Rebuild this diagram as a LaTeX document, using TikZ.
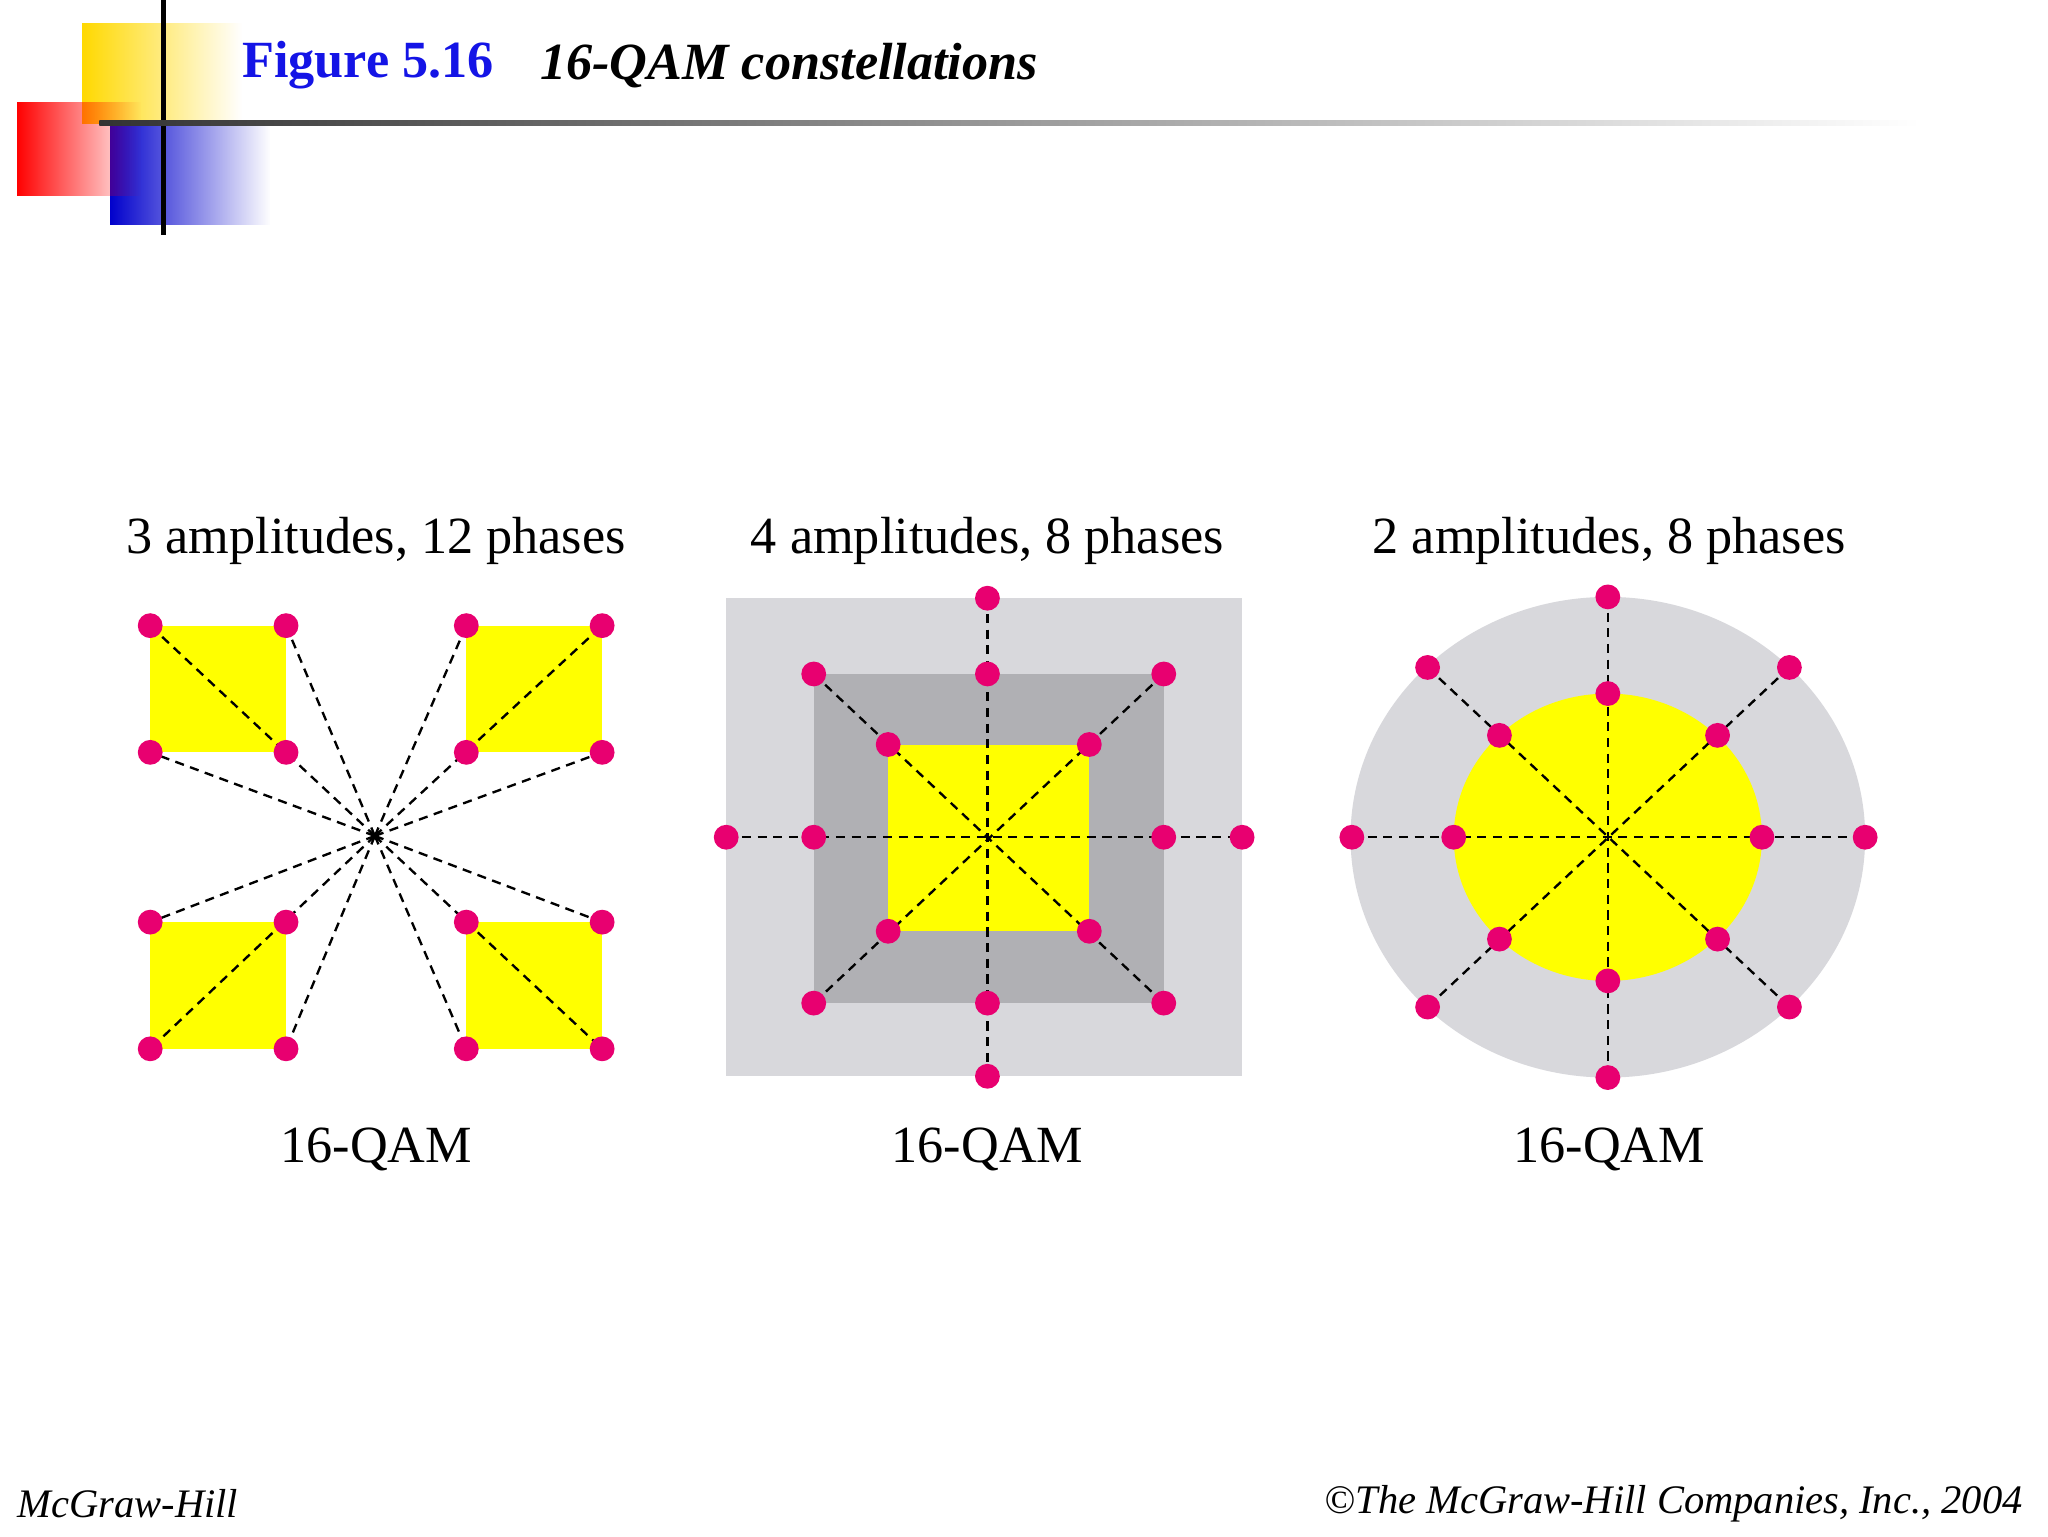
\documentclass[tikz,border=0pt]{standalone}
\usepackage{fontspec}
\setmainfont{Liberation Serif}
\usetikzlibrary{fadings}
\definecolor{dotc}{RGB}{232,0,112}
\definecolor{yel}{RGB}{255,255,0}
\definecolor{lg}{RGB}{216,216,220}
\definecolor{mg}{RGB}{176,176,180}
\definecolor{tblue}{RGB}{20,20,230}
\tikzset{
 dot/.style={circle,fill=dotc,inner sep=0pt,minimum size=19pt},
 dl/.style={line width=1.8pt,dash pattern=on 7pt off 5pt},
 lab/.style={font=\fontsize{40}{44}\selectfont},
 foot/.style={font=\itshape\fontsize{31}{34}\selectfont}
}
\begin{document}
\begin{tikzpicture}[x=1pt,y=-1pt]
\useasboundingbox[fill=white] (0,0) rectangle (1568,1176);
% logo
\fill[yel!70!orange,path fading=east] (63,18) rectangle (185,95);
\fill[blue!80!black,path fading=east] (84,95) rectangle (207,172);
\fill[red,path fading=east] (13,78) rectangle (108,150);
\draw[line width=4pt] (125,0) -- (125,180);
\shade[left color=black!80,right color=white] (76,92) rectangle (1470,96);
\node[anchor=west,font=\bfseries\fontsize{40}{44}\selectfont,text=tblue] (t1) at (182,50) {Figure 5.16};
\node[anchor=west,font=\bfseries\itshape\fontsize{40}{44}\selectfont] (t2) at (410,50) {16-QAM constellations};
% panel 1
\coordinate (c1) at (287,640);
\foreach \x/\y in {115/479,357/479,115/706,357/706}
  \fill[yel] (\x,\y) rectangle ++(104,97);
\foreach \x/\y in {115/479,219/479,115/576,461/479,357/479,461/576,115/803,115/706,219/803,461/803,461/706,357/803}
  \draw[dl] (c1) -- (\x,\y);
\foreach \x/\y in {115/479,219/479,115/576,219/576,357/479,461/479,357/576,461/576,115/706,219/706,115/803,219/803,357/706,461/706,357/803,461/803}
  \node[dot] at (\x,\y) {};
\node[lab] (l1) at (288,414) {3 amplitudes, 12 phases};
\node[lab] (q1) at (288,880) {16-QAM};
% panel 2
\coordinate (c2) at (756,641);
\fill[lg] (556,458) rectangle (951,824);
\fill[mg] (623,516) rectangle (891,768);
\fill[yel] (680,570) rectangle (834,713);
\draw[dl] (556,641) -- (951,641);
\draw[dl] (756,458) -- (756,824);
\draw[dl] (623,516) -- (891,768);
\draw[dl] (891,516) -- (623,768);
\foreach \x/\y in {756/458,756/824,556/641,951/641,623/516,891/516,623/768,891/768,756/516,756/768,623/641,891/641,680/570,834/570,680/713,834/713}
  \node[dot] at (\x,\y) {};
\node[lab] (l2) at (756,414) {4 amplitudes, 8 phases};
\node[lab] (q2) at (756,880) {16-QAM};
% panel 3
\coordinate (c3) at (1231,641);
\fill[lg] (c3) ellipse [x radius=197,y radius=184];
\fill[yel] (c3) ellipse [x radius=118,y radius=110];
\draw[dl] (1035,641) -- (1428,641);
\draw[dl] (1231,457) -- (1231,825);
\draw[dl] (1093,511) -- (1370,771);
\draw[dl] (1370,511) -- (1093,771);
\foreach \x/\y in {1035/641,1428/641,1231/457,1231/825,1093/511,1370/511,1093/771,1370/771,1113/641,1349/641,1231/531,1231/751,1148/563,1315/563,1148/719,1315/719}
  \node[dot] at (\x,\y) {};
\node[lab] (l3) at (1232,414) {2 amplitudes, 8 phases};
\node[lab] (q3) at (1232,880) {16-QAM};
% footer
\node[foot,anchor=west] (f1) at (10,1151) {McGraw-Hill};
\node[foot,anchor=east] (f2) at (1552,1151) {©The McGraw-Hill Companies, Inc., 2004};
\end{tikzpicture}
\end{document}
